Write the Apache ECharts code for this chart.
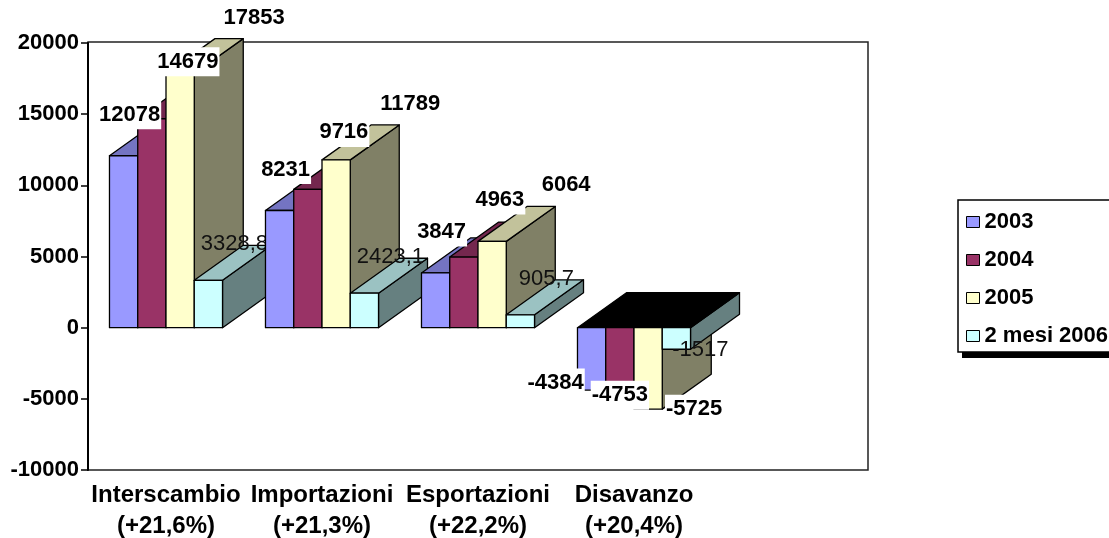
<!DOCTYPE html>
<html>
<head>
<meta charset="utf-8">
<script src="https://cdn.jsdelivr.net/npm/echarts/dist/echarts.min.js"></script>
<style>
  html, body { margin: 0; padding: 0; background: #fff; }
  #chart { width: 1109px; height: 538px; }
</style>
</head>
<body>
<div id="chart"></div>
<script>
// Categories and their growth rates
const categories = ['Interscambio', 'Importazioni', 'Esportazioni', 'Disavanzo'];
const growth = ['+21,6%', '+21,3%', '+22,2%', '+20,4%'];

// Series names and values (one array per year)
const years = ['2003', '2004', '2005', '2 mesi 2006'];
const values2003 = [12078, 8231, 3847, -4384];
const values2004 = [14679, 9716, 4963, -4753];
const values2005 = [17853, 11789, 6064, -5725];
const values2006 = [3328.8, 2423.1, 905.7, -1517];

// Value axis range
const yMin = -10000;
const yMax = 20000;
const yStep = 5000;

const seriesValues = [values2003, values2004, values2005, values2006];
const palette = ['#9999FF', '#993366', '#FFFFCC', '#CCFFFF'];
const FONT = '"Liberation Sans", Arial, Helvetica, sans-serif';

// 3D column geometry: gap between clusters and depth offset (fractions of a category band)
const GAP = 0.38;
const DEPTH_X = 0.314;
const DEPTH_Y = 0.224;

// Label offsets per year, from the top of positive columns / bottom of negative ones
const LABEL_SHIFT = {
  up:   [[6, -41], [36, -57], [74, -56], [26, -36]],
  down: [[-36, -7], [0, 0], [46, 0], [24, 1]]
};

function shade(hex, f) {
  const n = parseInt(hex.slice(1), 16);
  const r = Math.round(((n >> 16) & 255) * f);
  const g = Math.round(((n >> 8) & 255) * f);
  const b = Math.round((n & 255) * f);
  return 'rgb(' + r + ',' + g + ',' + b + ')';
}

function fmt(v) {
  return String(v).replace('.', ',');
}

function makeRender(k) {
  const col = palette[k];
  return function (params, api) {
    const cat = api.value(0);
    const val = api.value(1);
    const base = api.coord([cat, 0]);
    const tip = api.coord([cat, val]);
    const band = api.size([1, 0])[0];
    const groupW = band / (1 + GAP);
    const w = groupW / years.length;
    const x0 = base[0] - groupW / 2 + k * w;
    const x1 = x0 + w;
    const yTop = Math.min(base[1], tip[1]);
    const yBot = Math.max(base[1], tip[1]);
    const dx = band * DEPTH_X;
    const dy = band * DEPTH_Y;
    const neg = val < 0;
    const z = cat * 100 + k * 10;
    const edge = { stroke: '#000', lineWidth: 1.3, lineJoin: 'round' };

    const children = [
      { // side face
        type: 'polygon', z2: z + 1,
        shape: { points: [[x1, yTop], [x1 + dx, yTop - dy], [x1 + dx, yBot - dy], [x1, yBot]] },
        style: Object.assign({ fill: shade(col, 0.5) }, edge)
      },
      { // top face (the zero plane of negative columns is dark)
        type: 'polygon', z2: z + 2,
        shape: { points: [[x0, yTop], [x1, yTop], [x1 + dx, yTop - dy], [x0 + dx, yTop - dy]] },
        style: Object.assign({ fill: neg ? '#000' : shade(col, 0.76) }, edge)
      },
      { // front face
        type: 'rect', z2: z + 3,
        shape: { x: x0, y: yTop, width: w, height: yBot - yTop },
        style: Object.assign({ fill: col }, edge)
      }
    ];

    const off = neg ? LABEL_SHIFT.down[k] : LABEL_SHIFT.up[k];
    const bold = k < 3;
    const textStyle = {
      text: fmt(val),
      x: (x0 + x1) / 2 + off[0],
      y: (neg ? yBot : yTop) + off[1],
      align: 'center',
      verticalAlign: 'middle',
      font: (bold ? 'bold ' : '') + '22px ' + FONT,
      fill: bold ? '#000' : '#111'
    };
    if (bold) {
      textStyle.backgroundColor = '#fff';
      textStyle.padding = [4, 1, 3, 1];
    }
    children.push({ type: 'text', z2: cat * 100 + 60 + k, style: textStyle });

    return { type: 'group', children: children };
  };
}

const chart = echarts.init(document.getElementById('chart'));

chart.setOption({
  animation: false,
  backgroundColor: '#fff',
  grid: [
    { // plot-area frame
      left: 88, top: 42, width: 780, height: 428,
      outerBoundsMode: 'none',
      show: true, borderColor: '#222', borderWidth: 1.5, backgroundColor: 'transparent'
    },
    { // column area
      left: 88, top: 43, width: 624, height: 427,
      outerBoundsMode: 'none',
      containLabel: false
    }
  ],
  xAxis: [
    { gridIndex: 0, type: 'value', show: false },
    {
      gridIndex: 1,
      type: 'category',
      data: categories,
      position: 'bottom',
      axisLine: { show: false, onZero: false },
      axisTick: { show: false },
      axisLabel: {
        interval: 0,
        margin: 10,
        color: '#000',
        fontFamily: FONT,
        fontWeight: 'bold',
        fontSize: 24,
        lineHeight: 31,
        formatter: function (v, i) { return v + '\n(' + growth[i] + ')'; }
      }
    }
  ],
  yAxis: [
    { gridIndex: 0, type: 'value', show: false },
    {
      gridIndex: 1,
      type: 'value',
      min: yMin,
      max: yMax,
      interval: yStep,
      axisLine: { show: true, lineStyle: { color: '#000', width: 2 } },
      axisTick: { show: true, length: 7, lineStyle: { color: '#000', width: 1.5 } },
      axisLabel: {
        margin: 9,
        color: '#000',
        fontFamily: FONT,
        fontWeight: 'bold',
        fontSize: 22,
        formatter: function (v) { return String(v); }
      },
      splitLine: { show: false }
    }
  ],
  // drop shadow under the legend box
  graphic: [{
    type: 'rect',
    left: 962, top: 206,
    shape: { width: 200, height: 152 },
    style: { fill: '#000' },
    z: 0,
    silent: true
  }],
  legend: {
    orient: 'vertical',
    left: 958,
    top: 200,
    z: 5,
    selectedMode: false,
    data: years.map(function (n, k) {
      return { name: n, icon: 'rect', itemStyle: { color: palette[k], borderColor: '#000', borderWidth: 1 } };
    }),
    itemWidth: 13,
    itemHeight: 11,
    itemGap: 16,
    padding: [11, 30, 5, 8],
    backgroundColor: '#fff',
    borderColor: '#000',
    borderWidth: 1.5,
    textStyle: { fontFamily: FONT, fontWeight: 'bold', fontSize: 22, lineHeight: 22, color: '#000' }
  },
  series: years.map(function (name, k) {
    return {
      type: 'custom',
      name: name,
      xAxisIndex: 1,
      yAxisIndex: 1,
      silent: true,
      clip: false,
      itemStyle: { color: palette[k] },
      data: seriesValues[k].map(function (v, i) { return [i, v]; }),
      renderItem: makeRender(k)
    };
  })
});
</script>
</body>
</html>
